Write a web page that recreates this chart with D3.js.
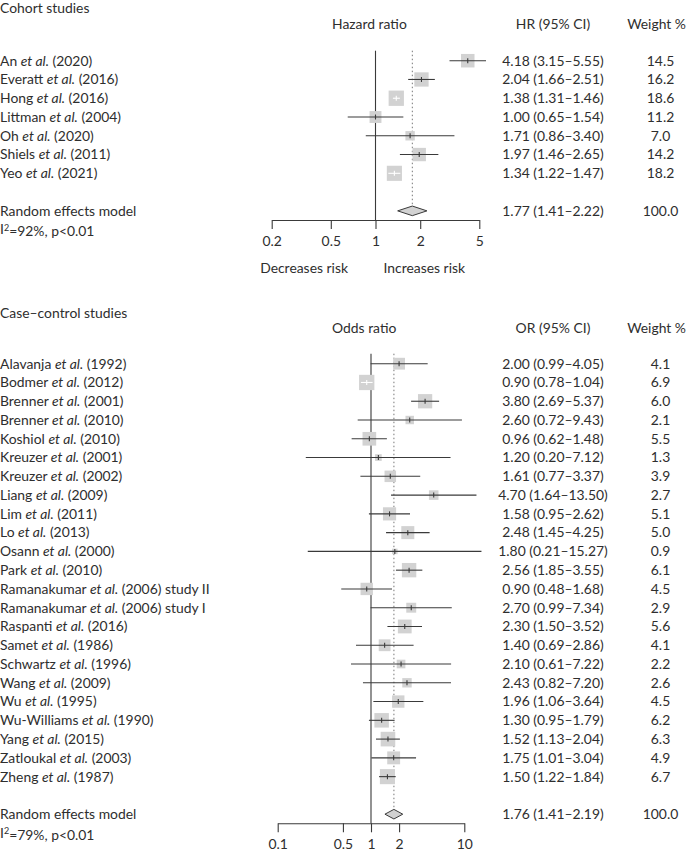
<!DOCTYPE html>
<html>
<head>
<meta charset="utf-8">
<script src="https://cdnjs.cloudflare.com/ajax/libs/d3/7.8.5/d3.min.js"></script>
<style>
  body { margin: 0; background: #fff; }
  svg text { font-family: Lato, "Noto Sans", sans-serif; font-size: 13.9px; fill: #2e2e2e; }
</style>
</head>
<body>
<div id="chart"></div>
<script>
'use strict';

// cohort studies
var cohortAuthors = ["An", "Everatt", "Hong", "Littman", "Oh", "Shiels", "Yeo"];
var cohortYears = ["(2020)", "(2016)", "(2016)", "(2004)", "(2020)", "(2011)", "(2021)"];
var cohortEst = [4.18, 2.04, 1.38, 1.00, 1.71, 1.97, 1.34];
var cohortLo = [3.15, 1.66, 1.31, 0.65, 0.86, 1.46, 1.22];
var cohortHi = [5.55, 2.51, 1.46, 1.54, 3.40, 2.65, 1.47];
var cohortWeight = [14.5, 16.2, 18.6, 11.2, 7.0, 14.2, 18.2];
var cohortPooled = [1.77, 1.41, 2.22];
var cohortTicks = [0.2, 0.5, 1, 2, 5];

// case-control studies
var ccAuthors = ["Alavanja", "Bodmer", "Brenner", "Brenner", "Koshiol", "Kreuzer", "Kreuzer", "Liang",
  "Lim", "Lo", "Osann", "Park", "Ramanakumar", "Ramanakumar", "Raspanti", "Samet", "Schwartz",
  "Wang", "Wu", "Wu-Williams", "Yang", "Zatloukal", "Zheng"];
var ccYears = ["(1992)", "(2012)", "(2001)", "(2010)", "(2010)", "(2001)", "(2002)", "(2009)",
  "(2011)", "(2013)", "(2000)", "(2010)", "(2006) study II", "(2006) study I", "(2016)", "(1986)", "(1996)",
  "(2009)", "(1995)", "(1990)", "(2015)", "(2003)", "(1987)"];
var ccEst = [2.00, 0.90, 3.80, 2.60, 0.96, 1.20, 1.61, 4.70, 1.58, 2.48, 1.80, 2.56, 0.90, 2.70,
  2.30, 1.40, 2.10, 2.43, 1.96, 1.30, 1.52, 1.75, 1.50];
var ccLo = [0.99, 0.78, 2.69, 0.72, 0.62, 0.20, 0.77, 1.64, 0.95, 1.45, 0.21, 1.85, 0.48, 0.99,
  1.50, 0.69, 0.61, 0.82, 1.06, 0.95, 1.13, 1.01, 1.22];
var ccHi = [4.05, 1.04, 5.37, 9.43, 1.48, 7.12, 3.37, 13.50, 2.62, 4.25, 15.27, 3.55, 1.68, 7.34,
  3.52, 2.86, 7.22, 7.20, 3.64, 1.79, 2.04, 3.04, 1.84];
var ccWeight = [4.1, 6.9, 6.0, 2.1, 5.5, 1.3, 3.9, 2.7, 5.1, 5.0, 0.9, 6.1, 4.5, 2.9, 5.6, 4.1,
  2.2, 2.6, 4.5, 6.2, 6.3, 4.9, 6.7];
var ccPooled = [1.76, 1.41, 2.19];
var ccTicks = [0.1, 0.5, 1, 2, 10];

var width = 688, height = 853;
var rowStep = 18.77;
var lineColor = "#3a3a3a";
var squareColor = "#d2d2d2";
var fmt2 = d3.format(".2f"), fmt1 = d3.format(".1f");

var svg = d3.select("#chart").append("svg")
  .attr("width", width)
  .attr("height", height);

function drawPanel(p) {
  var g = svg.append("g");
  var n = p.authors.length;
  var rows = p.authors.map(function (a, i) {
    return {author: a, year: p.years[i], est: p.est[i], lo: p.lo[i], hi: p.hi[i], w: p.weight[i]};
  });

  var x = d3.scaleLog().domain(d3.extent(p.ticks)).range(p.xRange);
  var y = function (i) { return p.y0 + i * rowStep; };
  var pooledY = y(n + 1);
  var wmax = d3.max(p.weight);
  var side = function (w) { return 15.3 * Math.sqrt(w / wmax); };

  g.append("text").attr("x", 0).attr("y", p.titleY).attr("dy", "0.35em").text(p.title);
  g.append("text").attr("x", 332).attr("y", p.headY).attr("dy", "0.35em").text(p.measure);
  g.append("text").attr("x", 553).attr("y", p.headY).attr("dy", "0.35em")
    .attr("text-anchor", "middle").text(p.ciHead);
  g.append("text").attr("x", 686).attr("y", p.headY).attr("dy", "0.35em")
    .attr("text-anchor", "end").text("Weight %");

  // reference line at 1 and dotted line at pooled estimate
  g.append("line")
    .attr("x1", x(1)).attr("x2", x(1))
    .attr("y1", p.y0 - 10).attr("y2", p.axisY)
    .attr("stroke", lineColor).attr("stroke-width", 1.1);
  g.append("line")
    .attr("x1", x(p.pooled[0])).attr("x2", x(p.pooled[0]))
    .attr("y1", p.y0 - 10).attr("y2", pooledY - 5)
    .attr("stroke", "#777").attr("stroke-width", 1)
    .attr("stroke-dasharray", "1.5,2.5");

  var row = g.selectAll("g.row").data(rows).enter().append("g").attr("class", "row");

  row.append("rect")
    .attr("x", function (d) { return x(d.est) - side(d.w) / 2; })
    .attr("y", function (d, i) { return y(i) - side(d.w) / 2; })
    .attr("width", function (d) { return side(d.w); })
    .attr("height", function (d) { return side(d.w); })
    .attr("fill", squareColor);

  // CI line is drawn white when it sits inside the square
  var inside = function (d) {
    var s = side(d.w) / 2;
    return x(d.lo) >= x(d.est) - s && x(d.hi) <= x(d.est) + s;
  };
  row.append("line")
    .attr("x1", function (d) { return x(d.lo); })
    .attr("x2", function (d) { return x(d.hi); })
    .attr("y1", function (d, i) { return y(i); })
    .attr("y2", function (d, i) { return y(i); })
    .attr("stroke", function (d) { return inside(d) ? "#fff" : lineColor; })
    .attr("stroke-width", 1.1);
  row.append("line")
    .attr("x1", function (d) { return x(d.est); })
    .attr("x2", function (d) { return x(d.est); })
    .attr("y1", function (d, i) { return y(i) - 2.5; })
    .attr("y2", function (d, i) { return y(i) + 2.5; })
    .attr("stroke", function (d) { return inside(d) ? "#fff" : lineColor; })
    .attr("stroke-width", 1.1);

  var lab = row.append("text")
    .attr("x", 0)
    .attr("y", function (d, i) { return y(i); })
    .attr("dy", "0.35em");
  lab.append("tspan").text(function (d) { return d.author + " "; });
  lab.append("tspan").attr("font-style", "italic").text("et al.");
  lab.append("tspan").text(function (d) { return " " + d.year; });

  row.append("text")
    .attr("x", 553)
    .attr("y", function (d, i) { return y(i); })
    .attr("dy", "0.35em")
    .attr("text-anchor", "middle")
    .text(function (d) { return fmt2(d.est) + " (" + fmt2(d.lo) + "\u2013" + fmt2(d.hi) + ")"; });
  row.append("text")
    .attr("x", 660.5)
    .attr("y", function (d, i) { return y(i); })
    .attr("dy", "0.35em")
    .attr("text-anchor", "middle")
    .text(function (d) { return fmt1(d.w); });

  // pooled estimate
  var pe = p.pooled;
  g.append("path")
    .attr("d", "M" + x(pe[1]) + "," + pooledY +
      "L" + x(pe[0]) + "," + (pooledY - 4.8) +
      "L" + x(pe[2]) + "," + pooledY +
      "L" + x(pe[0]) + "," + (pooledY + 4.8) + "Z")
    .attr("fill", squareColor)
    .attr("stroke", lineColor)
    .attr("stroke-width", 1);
  g.append("text").attr("x", 0).attr("y", pooledY).attr("dy", "0.35em").text("Random effects model");
  g.append("text").attr("x", 553).attr("y", pooledY).attr("dy", "0.35em")
    .attr("text-anchor", "middle")
    .text(fmt2(pe[0]) + " (" + fmt2(pe[1]) + "\u2013" + fmt2(pe[2]) + ")");
  g.append("text").attr("x", 660.5).attr("y", pooledY).attr("dy", "0.35em")
    .attr("text-anchor", "middle").text("100.0");

  var het = g.append("text").attr("x", 0).attr("y", pooledY + 18.5).attr("dy", "0.35em");
  het.append("tspan").text("I");
  het.append("tspan").attr("dy", "-0.4em").style("font-size", "9px").text("2");
  het.append("tspan").attr("dy", "0.4em").text(p.het);

  var axis = g.append("g")
    .attr("transform", "translate(0," + p.axisY + ")")
    .call(d3.axisBottom(x).tickValues(p.ticks).tickSize(9).tickSizeOuter(0)
      .tickFormat(d3.format("~g")));
  axis.select(".domain").attr("stroke", lineColor).attr("stroke-width", 1.1);
  axis.selectAll(".tick line").attr("stroke", lineColor).attr("stroke-width", 1.1);
  axis.selectAll(".tick text").attr("y", 20.7).attr("dy", "0.35em").attr("fill", null);
  axis.attr("font-family", null).attr("font-size", null);

  if (p.riskY) {
    g.append("text").attr("x", 348).attr("y", p.riskY).attr("dy", "0.35em")
      .attr("text-anchor", "end").text("Decreases risk");
    g.append("text").attr("x", 383.5).attr("y", p.riskY).attr("dy", "0.35em")
      .text("Increases risk");
  }
}

drawPanel({
  title: "Cohort studies", measure: "Hazard ratio", ciHead: "HR (95% CI)",
  authors: cohortAuthors, years: cohortYears, est: cohortEst, lo: cohortLo, hi: cohortHi,
  weight: cohortWeight, pooled: cohortPooled, ticks: cohortTicks,
  het: "=92%, p<0.01",
  titleY: 8, headY: 24, y0: 60.7, axisY: 220, riskY: 268.3,
  xRange: [271.7, 479.3]
});

drawPanel({
  title: "Case\u2013control studies", measure: "Odds ratio", ciHead: "OR (95% CI)",
  authors: ccAuthors, years: ccYears, est: ccEst, lo: ccLo, hi: ccHi,
  weight: ccWeight, pooled: ccPooled, ticks: ccTicks,
  het: "=79%, p<0.01",
  titleY: 312.7, headY: 328.3, y0: 363.7, axisY: 823.3, riskY: null,
  xRange: [277.7, 464.3]
});
</script>
</body>
</html>
